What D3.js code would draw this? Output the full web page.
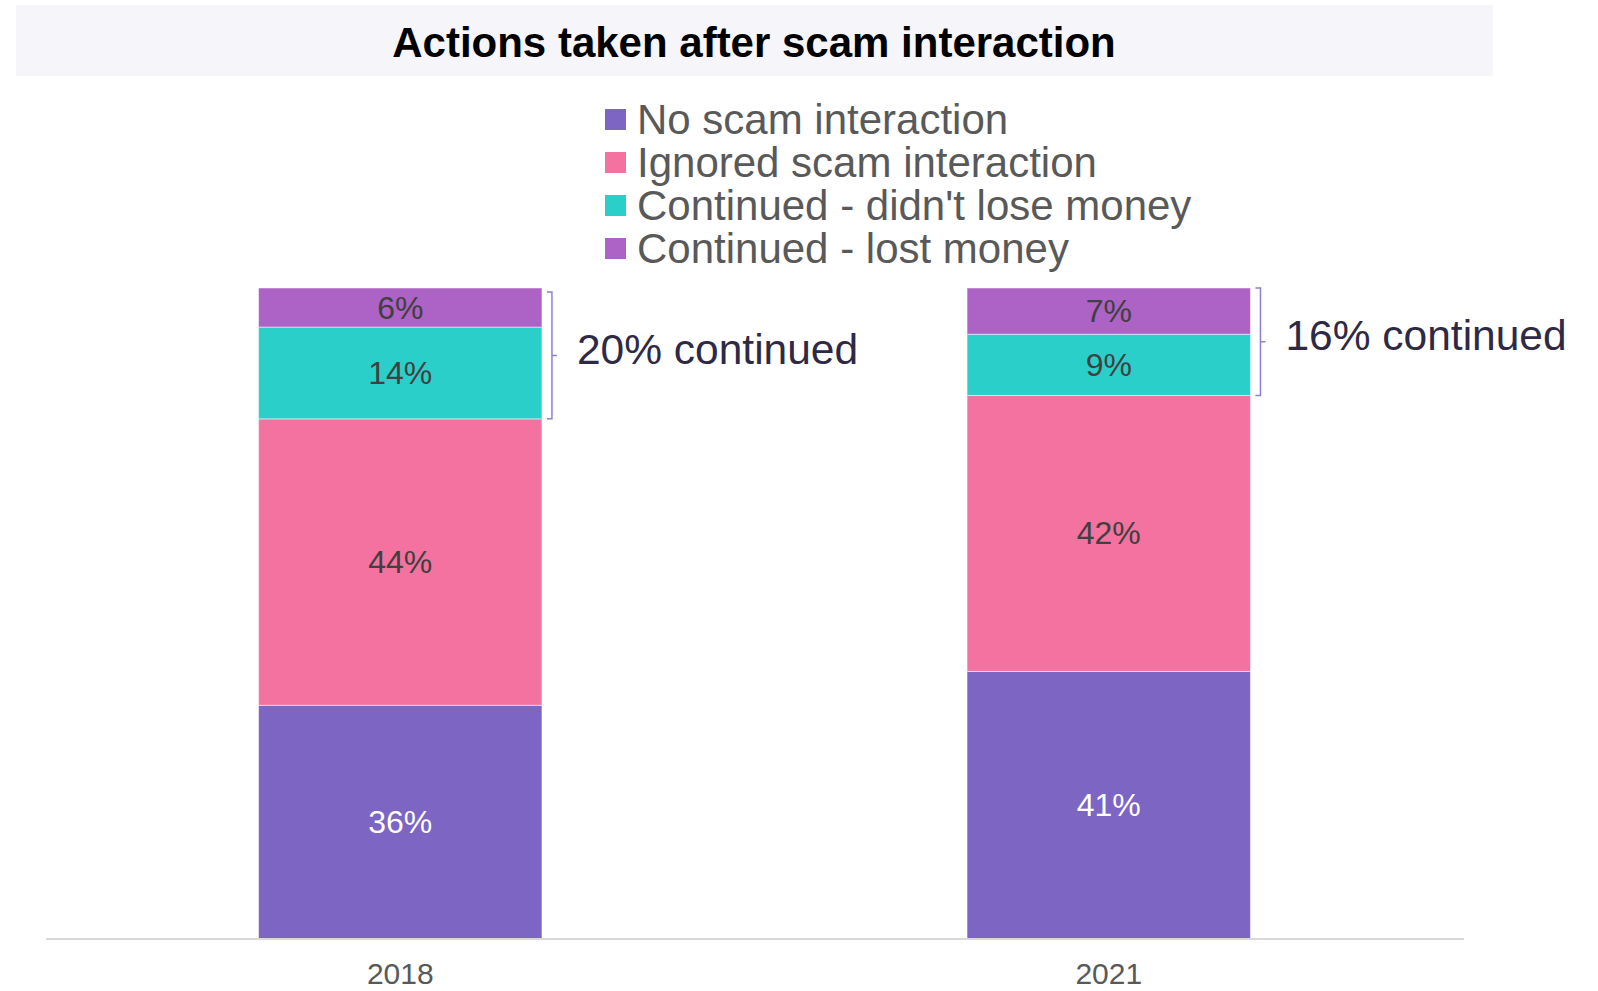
<!DOCTYPE html>
<html>
<head>
<meta charset="utf-8">
<script src="https://cdn.jsdelivr.net/npm/d3@7"></script>
<style>
  body { margin: 0; background: #fff; }
  svg { display: block; font-family: "Liberation Sans", Arial, sans-serif; }
</style>
</head>
<body>
<script>
const years = ["2018", "2021"];
const seriesNames = ["No scam interaction", "Ignored scam interaction", "Continued - didn't lose money", "Continued - lost money"];
const seriesColors = ["#7c65c3", "#f3729f", "#2bcfca", "#ad62c5"];
const labelColors = ["#ffffff", "#404040", "#404040", "#404040"];
// share of respondents per year, bottom to top
const noScam = [35.9, 41.1];
const ignored = [44.0, 42.4];
const continuedKept = [14.1, 9.4];
const continuedLost = [6.0, 7.1];
const segmentLabels = [["36%", "41%"], ["44%", "42%"], ["14%", "9%"], ["6%", "7%"]];
const continuedNotes = ["20% continued", "16% continued"];

const width = 1598, height = 991;
const margin = { top: 288, bottom: 52, left: 46, right: 135 };

const svg = d3.select("body").append("svg").attr("width", width).attr("height", height);

// title band
svg.append("rect").attr("x", 16).attr("y", 5).attr("width", 1477).attr("height", 71).attr("fill", "#f5f5fa");
svg.append("text")
  .attr("x", 754).attr("y", 42)
  .attr("text-anchor", "middle").attr("dominant-baseline", "central")
  .attr("font-weight", "bold").attr("font-size", 42).attr("fill", "#000")
  .text("Actions taken after scam interaction");

// legend
const legend = svg.append("g").attr("transform", "translate(605,119)");
const legendRows = legend.selectAll("g").data(seriesNames).join("g")
  .attr("transform", (d, i) => `translate(0,${i * 43})`);
legendRows.append("rect").attr("x", 0).attr("y", -10).attr("width", 21).attr("height", 21)
  .attr("fill", (d, i) => seriesColors[i]);
legendRows.append("text").attr("x", 32).attr("y", 0).attr("dominant-baseline", "central")
  .attr("font-size", 42).attr("fill", "#595959").text(d => d);

// data table for stacking
const table = years.map((y, i) => ({
  year: y, s0: noScam[i], s1: ignored[i], s2: continuedKept[i], s3: continuedLost[i]
}));
const stack = d3.stack().keys(["s0", "s1", "s2", "s3"]);
const layers = stack(table);

const x = d3.scaleBand().domain(years)
  .range([margin.left, width - margin.right])
  .paddingInner(0.6).paddingOuter(0.3);
const y = d3.scaleLinear().domain([0, 100]).range([height - margin.bottom, margin.top]);

// bars
const layerG = svg.append("g").selectAll("g").data(layers).join("g")
  .attr("fill", (d, i) => seriesColors[i]);
layerG.selectAll("rect").data(d => d).join("rect")
  .attr("x", d => x(d.data.year))
  .attr("y", d => y(d[1]))
  .attr("width", x.bandwidth())
  .attr("height", d => y(d[0]) - y(d[1]))
  .attr("stroke", "#ffffff").attr("stroke-opacity", 0.5).attr("stroke-width", 1);

// segment labels
layers.forEach((layer, li) => {
  svg.append("g").selectAll("text").data(layer).join("text")
    .attr("x", d => x(d.data.year) + x.bandwidth() / 2)
    .attr("y", d => (y(d[0]) + y(d[1])) / 2)
    .attr("text-anchor", "middle").attr("dominant-baseline", "central")
    .attr("font-size", 32).attr("fill", labelColors[li])
    .text((d, i) => segmentLabels[li][i]);
});

// x axis
const xAxis = svg.append("g")
  .attr("transform", `translate(0,${height - margin.bottom})`)
  .call(d3.axisBottom(x).tickSize(0).tickPadding(24));
xAxis.select(".domain").attr("stroke", "#d9d9d9").attr("stroke-width", 2)
  .attr("d", `M${margin.left},0H${width - margin.right + 1}`);
xAxis.selectAll("text").attr("font-size", 30).attr("fill", "#595959")
  .attr("font-family", "Liberation Sans, Arial, sans-serif");

// brackets for the "continued" total
const bracketTop = [y(100) + 4, y(100)];
years.forEach((yr, i) => {
  const x0 = x(yr) + x.bandwidth() + 10;
  const top = bracketTop[i];
  const bottom = y(noScam[i] + ignored[i]);
  const mid = (top + bottom) / 2;
  svg.append("path")
    .attr("d", `M${x0 - 5},${top}H${x0}V${bottom}H${x0 - 5}M${x0},${mid}H${x0 + 5}`)
    .attr("fill", "none").attr("stroke", "#8e7fd6").attr("stroke-width", 1.5);
  svg.append("text")
    .attr("x", x0 + 25).attr("y", mid - 6)
    .attr("dominant-baseline", "central")
    .attr("font-size", 42.5).attr("fill", "#2e2a45")
    .text(continuedNotes[i]);
});
</script>
</body>
</html>
